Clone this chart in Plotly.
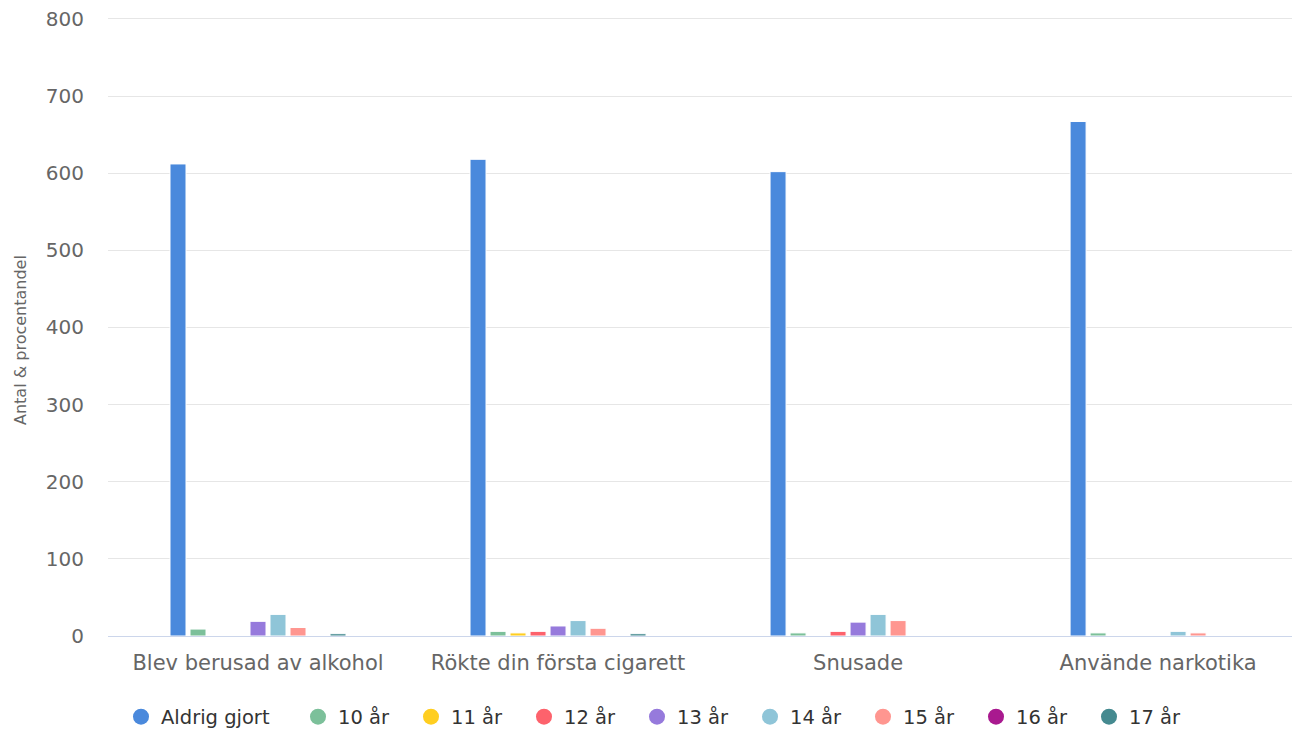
import plotly.graph_objects as go

categories = ["Blev berusad av alkohol", "Rökte din första cigarett", "Snusade", "Använde narkotika"]

series_names = ["Aldrig gjort", "10 år", "11 år", "12 år", "13 år", "14 år", "15 år", "16 år", "17 år"]
aldrig_gjort = [612, 618, 602, 667]
ar_10 = [9, 6, 4, 4]
ar_11 = [0, 4, 0, 0]
ar_12 = [0, 6, 6, 0]
ar_13 = [19, 13, 18, 0]
ar_14 = [28, 20, 28, 6]
ar_15 = [11, 10, 20, 4]
ar_16 = [0, 0, 0, 0]
ar_17 = [3, 3, 0, 0]

colors = ["#4a89dc", "#7cc09a", "#ffce20", "#fd626c", "#967adc",
          "#8fc5d8", "#ff9690", "#a9198f", "#458a90"]

values = [aldrig_gjort, ar_10, ar_11, ar_12, ar_13, ar_14, ar_15, ar_16, ar_17]

font_family = "DejaVu Sans, Verdana, sans-serif"

# page body has an 8px margin, so the figure is 8px smaller than the window
W, H = 1292, 721

fig = go.Figure()
for name, vals, col in zip(series_names, values, colors):
    fig.add_trace(go.Bar(
        x=categories, y=vals, name=name,
        marker=dict(color=col, line=dict(color="#ffffff", width=1)),
        showlegend=False,
    ))

# circle legend entries, like the original
for i, (name, col) in enumerate(zip(series_names, colors)):
    fig.add_trace(go.Scatter(
        x=[None], y=[None], mode="markers", name=name,
        marker=dict(color=col, size=16, symbol="circle"),
        legend="legend" if i == 0 else "legend2",
    ))

legend_font = dict(size=19.5, color="#333333", family=font_family)

fig.update_layout(
    width=W, height=H,
    paper_bgcolor="#ffffff", plot_bgcolor="#ffffff",
    margin=dict(l=100, r=0, t=9, b=93, autoexpand=False),
    barmode="group", bargap=0.4, bargroupgap=0.2,
    font=dict(family=font_family, color="#666666"),
    xaxis=dict(
        type="category",
        range=[-0.5, 3.473],
        showgrid=False, automargin=False,
        showline=True, linecolor="#ccd6eb", linewidth=1,
        ticks="", tickfont=dict(size=21, color="#666666"),
        ticklabelstandoff=8,
        fixedrange=True,
    ),
    yaxis=dict(
        range=[0, 802.5], tickvals=[0, 100, 200, 300, 400, 500, 600, 700, 800],
        automargin=False,
        showgrid=True, gridcolor="#e6e6e6", gridwidth=1,
        zeroline=False, showline=False,
        tickfont=dict(size=20, color="#666666"),
        ticklabelstandoff=23, ticklabeloverflow="allow",
    ),
    annotations=[dict(
        text="Antal & procentandel", textangle=-90,
        xref="paper", yref="paper", x=(12 - 100) / 1192, y=(628 - 332) / 619,
        xanchor="center", yanchor="middle", showarrow=False,
        font=dict(size=16, color="#666666"),
    )],
    legend=dict(
        orientation="h", xref="container", yref="container",
        x=113 / W, xanchor="left", y=12 / H, yanchor="middle",
        font=legend_font, itemsizing="trace",
    ),
    legend2=dict(
        orientation="h", xref="container", yref="container",
        x=290 / W, xanchor="left", y=12 / H, yanchor="middle",
        font=legend_font, itemsizing="trace",
        entrywidth=68, entrywidthmode="pixels",
    ),
)

fig.write_html("out.html")
